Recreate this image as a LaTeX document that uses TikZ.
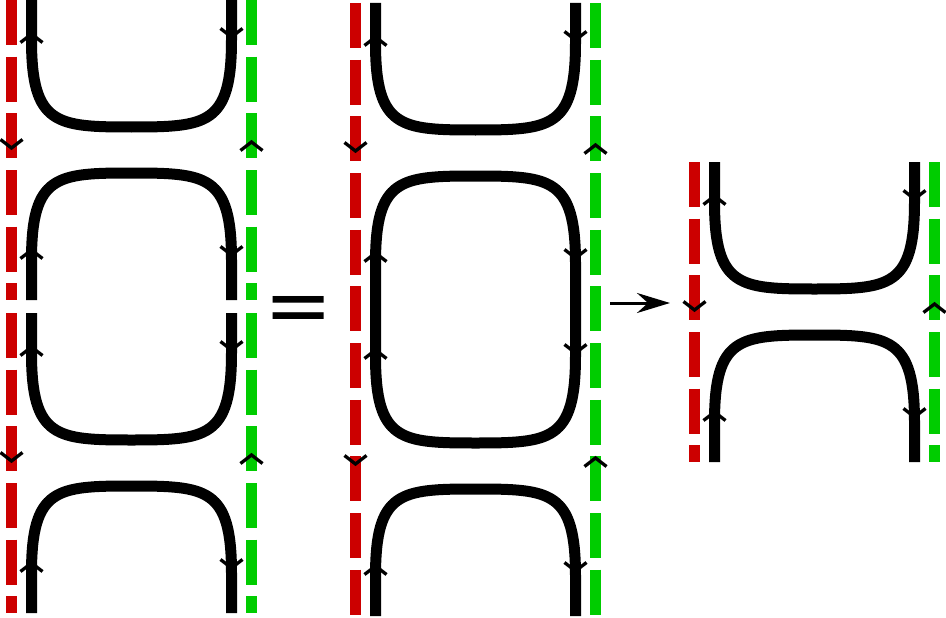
\documentclass[tikz,border=0pt]{standalone}
\usepackage{fontspec}
\newfontfamily\eqfont{DejaVu Sans}
\usetikzlibrary{arrows.meta}
\definecolor{redd}{HTML}{CC0000}
\definecolor{grn}{HTML}{00CC00}
\tikzset{
  strand/.style={line width=11pt, black, line cap=butt, line join=round},
  redline/.style={line width=11pt, redd, line cap=butt, dash pattern=on 45pt off 11.67pt},
  greenline/.style={line width=11pt, grn, line cap=butt, dash pattern=on 45pt off 11.67pt},
  chev/.style={line width=3.3pt, black, line join=miter, line cap=butt},
}
\newcommand\chevup[2]{\draw[chev] (#1-11,#2+8.5) -- (#1,#2) -- (#1+11,#2+8.5);}
\newcommand\chevdown[2]{\draw[chev] (#1-11,#2-8.5) -- (#1,#2) -- (#1+11,#2-8.5);}
\newcommand\unitchevs[1]{%
  \chevup{20}{#1+34}\chevup{20}{#1+250}%
  \chevdown{220}{#1+37}\chevdown{220}{#1+255}%
  \chevdown{0}{#1+148}\chevup{240}{#1+142}}
\newcommand\unitpiece[2]{%
  \begin{scope}[shift={(#1,#2)}]
    \draw[redline] (0,0) -- (0,300);
    \draw[greenline] (240,0) -- (240,300);
    \draw[strand] (20,0) -- (20,40) .. controls (20,125) and (45,127) .. (120,127)
      .. controls (195,127) and (220,125) .. (220,40) -- (220,0);
    \draw[strand] (20,300) -- (20,260) .. controls (20,175) and (45,173) .. (120,173)
      .. controls (195,173) and (220,175) .. (220,260) -- (220,300);
    \unitchevs{0}
  \end{scope}}
\begin{document}
\begin{tikzpicture}[x=1pt,y=-1pt]
\useasboundingbox (0,0) rectangle (946,618);
% left panel: two glued pieces
\unitpiece{11.5}{0}
\unitpiece{11.5}{313}
% equals sign
\node[inner sep=0pt, anchor=base, font=\eqfont\fontsize{81.5}{81.5}\selectfont] (eq) at (298.5,333.7) {=};
% middle panel
\begin{scope}[shift={(355.5,0)}]
  \draw[redline] (0,3) -- (0,616);
  \draw[greenline] (240,3) -- (240,616);
  \draw[strand] (20,3) -- (20,43) .. controls (20,128) and (45,130) .. (120,130)
    .. controls (195,130) and (220,128) .. (220,43) -- (220,3);
  \draw[strand] (120,176) .. controls (45,176) and (20,178) .. (20,263) -- (20,356)
    .. controls (20,441) and (45,443) .. (120,443) .. controls (195,443) and (220,441) .. (220,356)
    -- (220,263) .. controls (220,178) and (195,176) .. cycle;
  \draw[strand] (20,616) -- (20,576) .. controls (20,491) and (45,489) .. (120,489)
    .. controls (195,489) and (220,491) .. (220,576) -- (220,616);
  \unitchevs{3}
  \unitchevs{316}
\end{scope}
% arrow
\coordinate (arrS) at (610,303);
\coordinate (arrE) at (670,303);
\draw[line width=3pt, -{Stealth[length=33pt,width=20pt,inset=11pt]}] (arrS) -- (arrE);
% right panel
\unitpiece{694.5}{162}
\end{tikzpicture}
\end{document}
